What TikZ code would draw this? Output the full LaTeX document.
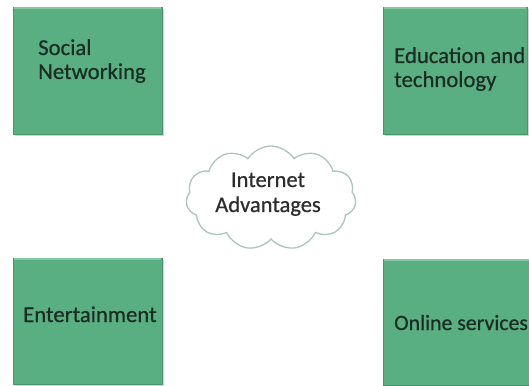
\documentclass[tikz,border=0pt]{standalone}
\usepackage{fontspec}
\setmainfont{Carlito}
\newfontfamily\boxfont{Carlito}[FakeBold=0.6]
\usetikzlibrary{shapes.symbols,shadows}
\definecolor{boxfill}{RGB}{90,175,130}
\definecolor{boxedge}{RGB}{72,150,108}
\definecolor{boxtop}{RGB}{130,200,160}
\definecolor{txt}{RGB}{25,45,35}
\definecolor{cloudedge}{RGB}{175,195,182}
\definecolor{cloudtxt}{RGB}{45,45,45}
\tikzset{
  greenbox/.style={draw=boxedge, line width=0.8pt, fill=boxfill,
    drop shadow={shadow xshift=2pt, shadow yshift=-2pt, opacity=0.35},
    inner sep=0pt, outer sep=0pt},
  boxtext/.style={text=txt, font=\boxfont\fontsize{22.7}{26}\selectfont, inner sep=0pt, anchor=base west},
  cloudshape/.style={cloud, cloud puffs=11, cloud puff arc=115, aspect=1.65,
    draw=cloudedge, line width=1.3pt, fill=white, minimum width=170pt, minimum height=104pt, inner sep=0pt},
  cloudtext/.style={text=cloudtxt, font=\boxfont\fontsize{22.5}{26}\selectfont, inner sep=0pt, anchor=base}
}
\begin{document}
\begin{tikzpicture}[x=1pt,y=1pt]
\useasboundingbox (0,0) rectangle (529,385);
% boxes (image y flipped: y = 385 - y_img)
\node[greenbox, minimum width=149pt, minimum height=127pt] (sn) at (87.5,314.5) {};
\node[greenbox, minimum width=144pt, minimum height=127pt] (edu) at (455,314.5) {};
\node[greenbox, minimum width=149pt, minimum height=126pt] (ent) at (87.5,64) {};
\node[greenbox, minimum width=152pt, minimum height=126pt] (onl) at (459,63) {};
% top bevel highlights
\draw[boxtop, line width=1.2pt] ([xshift=1pt,yshift=-1pt]sn.north west) -- ([xshift=-1pt,yshift=-1pt]sn.north east);
\draw[boxtop, line width=1.2pt] ([xshift=1pt,yshift=-1pt]edu.north west) -- ([xshift=-1pt,yshift=-1pt]edu.north east);
\draw[boxtop, line width=1.2pt] ([xshift=1pt,yshift=-1pt]ent.north west) -- ([xshift=-1pt,yshift=-1pt]ent.north east);
\draw[boxtop, line width=1.2pt] ([xshift=1pt,yshift=-1pt]onl.north west) -- ([xshift=-1pt,yshift=-1pt]onl.north east);
% box texts
\node[boxtext] (sn1) at (38,330) {Social};
\node[boxtext] (sn2) at (38,306) {Networking};
\node[boxtext] (edu1) at (394,322) {Education and};
\node[boxtext] (edu2) at (394,298) {technology};
\node[boxtext] (ent1) at (23,63) {Entertainment};
\node[boxtext, font=\boxfont\fontsize{21.8}{26}\selectfont] (onl1) at (394,55) {Online services};
% cloud
\node[cloudshape] (cl) at (271,187) {};
\node[cloudtext] (cl1) at (268,198) {Internet};
\node[cloudtext] (cl2) at (268,173) {Advantages};
\end{tikzpicture}
\end{document}
